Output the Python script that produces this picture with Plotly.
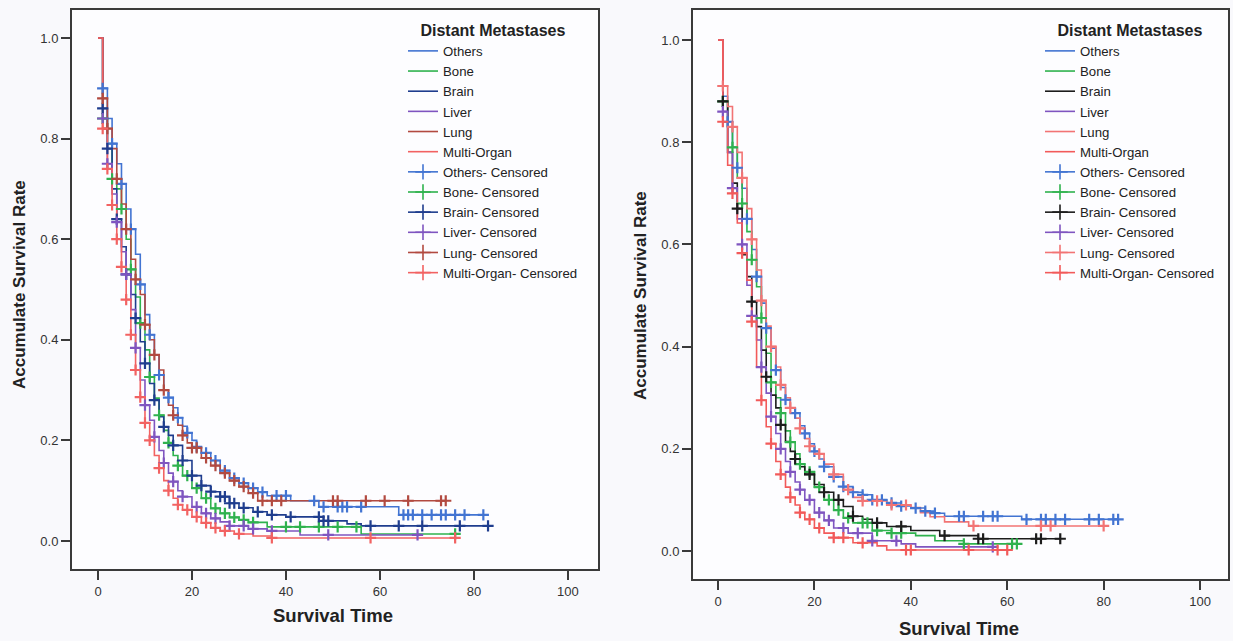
import numpy as np
import plotly.graph_objects as go

# ---------------- data: left panel ----------------
groups = ["Others", "Bone", "Brain", "Liver", "Lung", "Multi-Organ"]

L_t_others = [1, 2, 3, 4, 5, 6, 7, 8, 9, 10, 11, 12, 13, 14, 15, 16, 17, 18, 19, 20, 21, 22, 24, 26, 28, 30, 32, 34, 36, 41, 47, 64]
L_s_others = [0.90, 0.84, 0.79, 0.75, 0.71, 0.66, 0.62, 0.57, 0.51, 0.45, 0.41, 0.37, 0.33, 0.30, 0.285, 0.265, 0.245, 0.228, 0.215, 0.200, 0.187, 0.175, 0.160, 0.140, 0.125, 0.115, 0.105, 0.097, 0.090, 0.080, 0.068, 0.052]
L_c_others = [1, 3, 5, 7, 9, 11, 13, 15, 17, 19, 21, 23, 25, 27, 29, 31, 33, 35, 38, 40, 46, 48, 51, 52, 53, 56, 65, 66, 67, 69, 71, 73, 74, 76, 78, 82]

L_t_bone = [1, 2, 3, 4, 5, 6, 7, 8, 9, 10, 11, 12, 13, 14, 15, 16, 17, 18, 20, 22, 24, 26, 28, 30, 32, 36, 56]
L_s_bone = [0.84, 0.79, 0.72, 0.70, 0.66, 0.60, 0.54, 0.485, 0.433, 0.38, 0.326, 0.284, 0.25, 0.22, 0.195, 0.17, 0.15, 0.13, 0.105, 0.085, 0.065, 0.055, 0.047, 0.042, 0.037, 0.028, 0.014]
L_c_bone = [1, 3, 5, 7, 9, 11, 13, 15, 17, 19, 21, 23, 25, 27, 29, 31, 33, 40, 43, 47, 51, 55, 76]

L_t_brain = [1, 2, 3, 4, 5, 6, 7, 8, 9, 10, 11, 12, 13, 14, 15, 16, 18, 20, 22, 24, 26, 28, 30, 33, 36, 40, 48, 53, 56]
L_s_brain = [0.86, 0.78, 0.70, 0.64, 0.585, 0.53, 0.49, 0.443, 0.396, 0.353, 0.313, 0.28, 0.247, 0.227, 0.21, 0.19, 0.16, 0.13, 0.11, 0.098, 0.088, 0.075, 0.066, 0.058, 0.052, 0.048, 0.040, 0.034, 0.030]
L_c_brain = [1, 2, 4, 6, 8, 10, 12, 14, 16, 18, 20, 22, 24, 26, 27, 28, 29, 31, 34, 37, 41, 47, 48, 49, 58, 64, 69, 77, 83]

L_t_liver = [1, 2, 3, 4, 5, 6, 7, 8, 9, 10, 11, 12, 13, 14, 15, 16, 17, 18, 20, 22, 24, 26, 28, 32, 36, 43]
L_s_liver = [0.84, 0.75, 0.69, 0.634, 0.575, 0.53, 0.46, 0.384, 0.32, 0.27, 0.24, 0.207, 0.18, 0.155, 0.135, 0.118, 0.10, 0.088, 0.068, 0.055, 0.045, 0.038, 0.030, 0.024, 0.020, 0.012]
L_c_liver = [1, 2, 4, 6, 8, 10, 12, 14, 16, 18, 21, 23, 25, 28, 31, 33, 37, 49, 68]

L_t_lung = [1, 2, 3, 4, 5, 6, 7, 8, 9, 10, 11, 12, 13, 14, 15, 16, 17, 18, 19, 20, 22, 24, 26, 28, 30, 32, 34]
L_s_lung = [0.88, 0.82, 0.78, 0.72, 0.67, 0.62, 0.56, 0.52, 0.49, 0.43, 0.40, 0.37, 0.34, 0.30, 0.27, 0.25, 0.23, 0.21, 0.195, 0.185, 0.165, 0.150, 0.135, 0.120, 0.108, 0.095, 0.080]
L_c_lung = [1, 2, 4, 6, 8, 10, 12, 14, 16, 18, 20, 21, 23, 25, 27, 29, 31, 33, 35, 37, 39, 50, 51, 57, 61, 66, 73, 74]

L_t_multi = [1, 2, 3, 4, 5, 6, 7, 8, 9, 10, 11, 12, 13, 14, 15, 16, 17, 18, 20, 22, 24, 26, 29, 33, 37]
L_s_multi = [0.82, 0.74, 0.668, 0.60, 0.545, 0.48, 0.41, 0.34, 0.286, 0.235, 0.20, 0.17, 0.145, 0.12, 0.10, 0.085, 0.072, 0.062, 0.048, 0.036, 0.026, 0.020, 0.014, 0.010, 0.006]
L_c_multi = [1, 2, 3, 4, 5, 6, 7, 8, 9, 10, 11, 13, 15, 17, 19, 21, 23, 25, 27, 30, 37, 58, 76]

L_end = [82, 76, 83, 68, 74, 76]

# ---------------- data: right panel ----------------
R_t_others = [1, 2, 3, 4, 5, 6, 7, 8, 9, 10, 11, 12, 13, 14, 15, 16, 17, 18, 19, 20, 21, 22, 24, 26, 28, 30, 32, 35, 38, 40, 43, 45, 47, 63]
R_s_others = [0.89, 0.84, 0.79, 0.75, 0.71, 0.65, 0.59, 0.537, 0.485, 0.436, 0.397, 0.354, 0.32, 0.296, 0.28, 0.27, 0.245, 0.23, 0.21, 0.195, 0.18, 0.165, 0.145, 0.126, 0.115, 0.11, 0.10, 0.094, 0.088, 0.084, 0.078, 0.074, 0.068, 0.062]
R_c_others = [2, 4, 6, 8, 10, 12, 14, 16, 18, 20, 22, 24, 26, 28, 30, 32, 34, 36, 38, 41, 43, 45, 50, 51, 55, 57, 58, 64, 67, 68, 70, 72, 77, 79, 82, 83]

R_t_bone = [1, 2, 3, 4, 5, 6, 7, 8, 9, 10, 11, 12, 13, 14, 15, 16, 17, 18, 20, 22, 24, 26, 28, 32, 36, 41, 45, 51]
R_s_bone = [0.88, 0.83, 0.79, 0.73, 0.68, 0.625, 0.57, 0.517, 0.456, 0.387, 0.33, 0.30, 0.27, 0.235, 0.213, 0.19, 0.17, 0.155, 0.125, 0.10, 0.08, 0.065, 0.055, 0.04, 0.035, 0.03, 0.02, 0.014]
R_c_bone = [1, 3, 5, 7, 9, 11, 13, 15, 17, 19, 21, 23, 25, 27, 30, 31, 33, 36, 38, 51, 61, 62]

R_t_brain = [1, 2, 3, 4, 5, 6, 7, 8, 9, 10, 11, 12, 13, 14, 15, 16, 17, 18, 20, 22, 24, 26, 28, 30, 32, 35, 40, 46, 54]
R_s_brain = [0.88, 0.78, 0.72, 0.67, 0.58, 0.537, 0.488, 0.439, 0.393, 0.341, 0.305, 0.28, 0.247, 0.214, 0.195, 0.18, 0.165, 0.15, 0.13, 0.115, 0.10, 0.087, 0.068, 0.062, 0.055, 0.048, 0.040, 0.030, 0.024]
R_c_brain = [1, 4, 7, 10, 13, 16, 19, 22, 25, 28, 33, 38, 47, 54, 55, 66, 67, 71]

R_t_liver = [1, 2, 3, 4, 5, 6, 7, 8, 9, 10, 11, 12, 13, 14, 15, 16, 17, 18, 20, 22, 24, 27, 32, 38, 41]
R_s_liver = [0.86, 0.78, 0.71, 0.65, 0.60, 0.52, 0.46, 0.413, 0.36, 0.309, 0.263, 0.23, 0.20, 0.175, 0.155, 0.135, 0.12, 0.10, 0.075, 0.06, 0.045, 0.035, 0.02, 0.014, 0.008]
R_c_liver = [1, 3, 5, 7, 9, 11, 13, 15, 17, 19, 21, 23, 26, 29, 32, 37, 57]

R_t_lung = [1, 2, 3, 4, 5, 6, 7, 8, 9, 10, 11, 12, 13, 14, 15, 16, 17, 18, 19, 20, 22, 24, 26, 28, 30, 35, 40, 42, 44, 47, 52]
R_s_lung = [0.91, 0.87, 0.83, 0.78, 0.73, 0.67, 0.61, 0.55, 0.49, 0.44, 0.40, 0.36, 0.325, 0.30, 0.28, 0.26, 0.24, 0.22, 0.205, 0.19, 0.17, 0.15, 0.12, 0.105, 0.098, 0.09, 0.085, 0.075, 0.067, 0.057, 0.049]
R_c_lung = [1, 3, 5, 7, 9, 11, 13, 15, 17, 19, 21, 24, 27, 30, 33, 36, 39, 53, 67, 69, 80]

R_t_multi = [1, 2, 3, 4, 5, 6, 7, 8, 9, 10, 11, 12, 13, 14, 15, 16, 17, 18, 20, 22, 24, 28, 33, 35]
R_s_multi = [0.84, 0.755, 0.70, 0.642, 0.583, 0.53, 0.449, 0.36, 0.295, 0.243, 0.21, 0.175, 0.15, 0.125, 0.105, 0.09, 0.075, 0.062, 0.045, 0.035, 0.026, 0.016, 0.010, 0.002]
R_c_multi = [1, 3, 5, 7, 9, 11, 13, 15, 17, 19, 21, 24, 26, 30, 39, 40, 52, 58, 60]

R_end = [83, 62, 71, 57, 80, 61]

x_ticks = [0, 20, 40, 60, 80, 100]
y_ticks = [0.0, 0.2, 0.4, 0.6, 0.8, 1.0]

# ---------------- style ----------------
FONT = "Arial, Liberation Sans, sans-serif"
COR_EIXO = "#3a3a3a"
COR_TEXTO = "#222222"
COR_FUNDO = "#f9f9fc"
COR_PLOT = "#fdfdff"

CORES_L = ["#4274d2", "#2fb24e", "#1f3d8e", "#7f55c0", "#b24a40", "#f26262"]
CORES_R = ["#4274d2", "#2fb24e", "#1c1c1c", "#7f55c0", "#f27474", "#f25a5a"]

W, H = 1233, 641


def step_value(t_ev, s_ev, t_c):
    t_ev = np.asarray(t_ev, dtype=float)
    s_full = np.concatenate([[1.0], np.asarray(s_ev, dtype=float)])
    idx = np.searchsorted(t_ev, np.asarray(t_c, dtype=float), side="right")
    return s_full[idx]


def add_panel(fig, series, ends, cores, xa, ya, legend):
    # step curves
    for (nome, t_ev, s_ev, _), fim, cor in zip(series, ends, cores):
        x = [0] + list(t_ev) + [fim]
        y = [1.0] + list(s_ev) + [s_ev[-1]]
        fig.add_trace(go.Scatter(
            x=x, y=y, mode="lines", name=nome, line=dict(color=cor, width=1.6, shape="hv"),
            xaxis=xa, yaxis=ya, legend=legend,
        ))
    # legend entries for censored marks
    for (nome, _, _, _), cor in zip(series, cores):
        fig.add_trace(go.Scatter(
            x=[None], y=[None], mode="lines+markers", name=f"{nome}- Censored",
            line=dict(color=cor, width=1.6),
            marker=dict(symbol="cross-thin", size=11, line=dict(color=cor, width=1.6)),
            xaxis=xa, yaxis=ya, legend=legend,
        ))
    # censored marks
    for (nome, t_ev, s_ev, t_c), cor in zip(series, cores):
        fig.add_trace(go.Scatter(
            x=t_c, y=step_value(t_ev, s_ev, t_c), mode="markers", showlegend=False,
            marker=dict(symbol="cross-thin", size=8, line=dict(color=cor, width=2.2)),
            xaxis=xa, yaxis=ya, hoverinfo="skip",
        ))


series_L = [
    ("Others", L_t_others, L_s_others, L_c_others),
    ("Bone", L_t_bone, L_s_bone, L_c_bone),
    ("Brain", L_t_brain, L_s_brain, L_c_brain),
    ("Liver", L_t_liver, L_s_liver, L_c_liver),
    ("Lung", L_t_lung, L_s_lung, L_c_lung),
    ("Multi-Organ", L_t_multi, L_s_multi, L_c_multi),
]
series_R = [
    ("Others", R_t_others, R_s_others, R_c_others),
    ("Bone", R_t_bone, R_s_bone, R_c_bone),
    ("Brain", R_t_brain, R_s_brain, R_c_brain),
    ("Liver", R_t_liver, R_s_liver, R_c_liver),
    ("Lung", R_t_lung, R_s_lung, R_c_lung),
    ("Multi-Organ", R_t_multi, R_s_multi, R_c_multi),
]

fig = go.Figure()
add_panel(fig, series_L, L_end, CORES_L, "x", "y", "legend")
add_panel(fig, series_R, R_end, CORES_R, "x2", "y2", "legend2")

eixo = dict(
    showline=True, mirror=True, linewidth=2, linecolor=COR_EIXO,
    showgrid=False, zeroline=False, ticks="outside", ticklen=9, tickwidth=2,
    tickcolor=COR_EIXO, tickfont=dict(family=FONT, size=13, color="#333333"),
    automargin=False,
)

legenda = dict(
    title=dict(text="<b>Distant Metastases</b>", side="top center",
               font=dict(family=FONT, size=16, color=COR_TEXTO)),
    font=dict(family=FONT, size=13.2, color=COR_TEXTO),
    bgcolor="rgba(0,0,0,0)", borderwidth=0, tracegroupgap=0,
    xanchor="left", yanchor="top", itemwidth=30,
)

fig.update_layout(
    width=W, height=H,
    margin=dict(l=0, r=0, t=0, b=0),
    paper_bgcolor=COR_FUNDO, plot_bgcolor=COR_PLOT,
    font=dict(family=FONT, color=COR_TEXTO),
    xaxis=dict(domain=[72 / W, 598 / W], range=[-5.53, 106.4], tickvals=x_ticks, anchor="y", **eixo),
    yaxis=dict(domain=[1 - 569 / H, 1 - 10 / H], range=[-0.0557, 1.0557], tickvals=y_ticks,
               tickformat=".1f", anchor="x", **eixo),
    xaxis2=dict(domain=[693 / W, 1228 / W], range=[-5.19, 105.8], tickvals=x_ticks, anchor="y2", **eixo),
    yaxis2=dict(domain=[1 - 579 / H, 1 - 10 / H], range=[-0.0548, 1.0587], tickvals=y_ticks,
                tickformat=".1f", anchor="x2", **eixo),
    legend=dict(x=403 / W, y=1 - 15 / H, **legenda),
    legend2=dict(x=1040 / W, y=1 - 15 / H, **legenda),
    showlegend=True,
)

titulos = [
    ("Accumulate Survival Rate", 19, 285, -90, 17),
    ("Accumulate Survival Rate", 640, 296, -90, 17),
    ("Survival Time", 333, 615, 0, 18.5),
    ("Survival Time", 959, 628, 0, 18.5),
]
for txt, px, py, ang, fs in titulos:
    fig.add_annotation(
        text=f"<b>{txt}</b>", x=px / W, y=1 - py / H, xref="paper", yref="paper",
        showarrow=False, textangle=ang, xanchor="center", yanchor="middle",
        font=dict(family=FONT, size=fs, color=COR_TEXTO),
    )

# the page body has a default 8px margin; remove it so the figure fills the window
fig.write_html(
    "out.html",
    config={"displayModeBar": False},
    post_script="document.body.style.margin='0';document.body.style.overflow='hidden';",
)
